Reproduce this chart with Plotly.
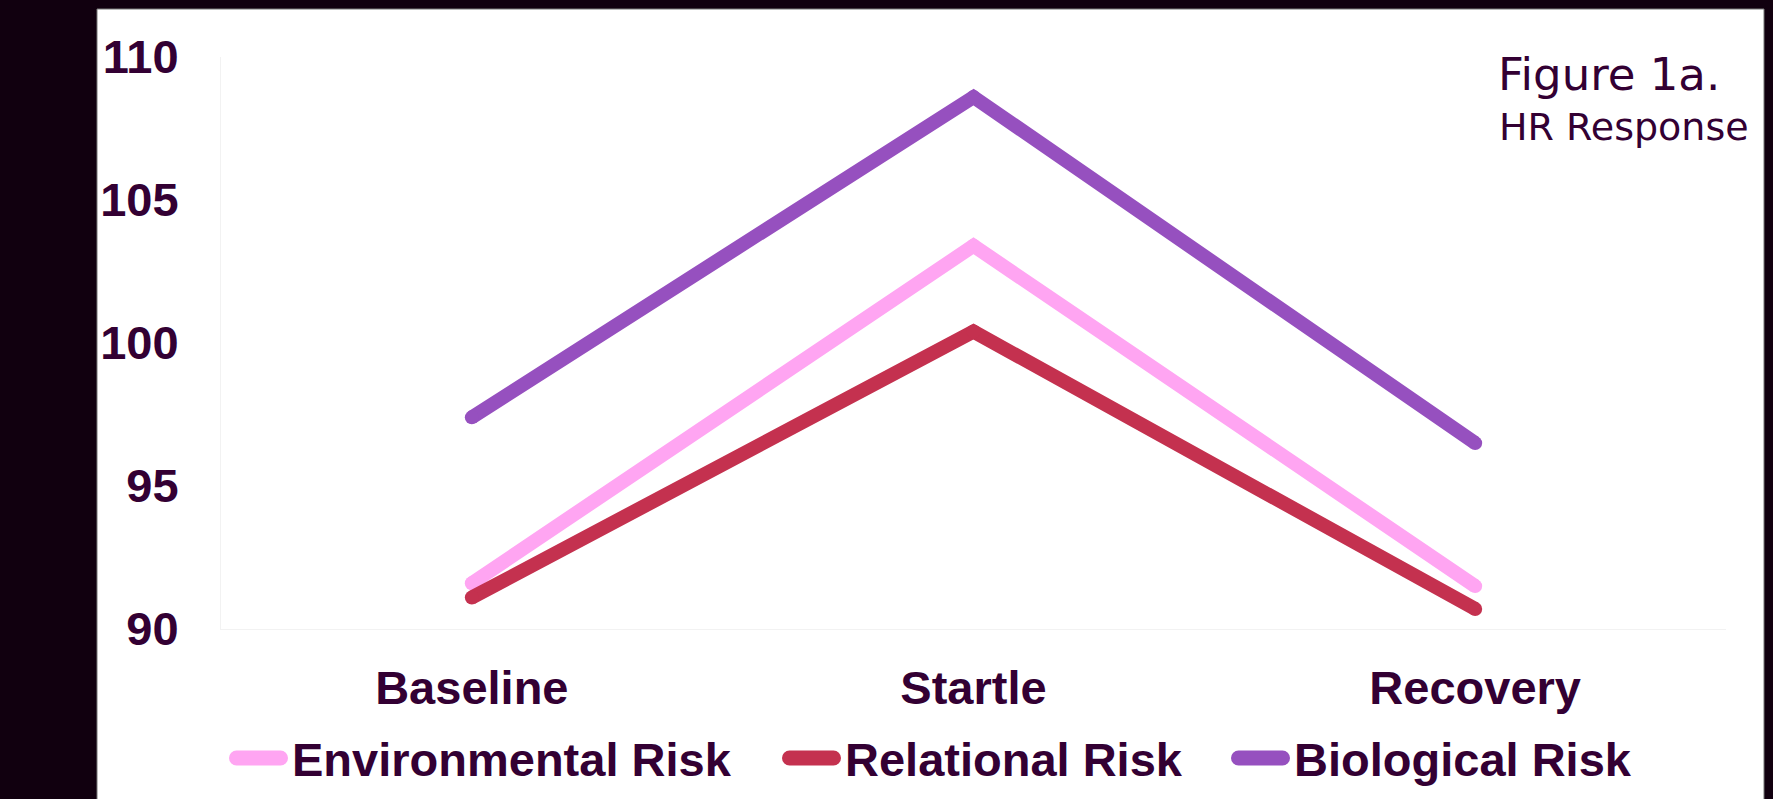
import plotly.graph_objects as go

# Heart-rate response by risk group across the three task phases
categories = ["Baseline", "Startle", "Recovery"]
environmental = [91.6, 103.4, 91.5]
relational = [91.1, 100.4, 90.7]
biological = [97.4, 108.6, 96.5]

series_names = ["Environmental Risk", "Relational Risk", "Biological Risk"]
series_values = [environmental, relational, biological]
series_colors = ["#FFA5F2", "#C4314F", "#9650BF"]
# width reserved for each legend entry's text block
legend_widths = [478, 374, 345]

W, H = 1773, 799
L, R, T, B = 221, 47, 57, 170
pw, ph = W - L - R, H - T - B
LW = 14

def px_x(v):
    return (v - L) / pw

def px_y(v):
    return (H - B - v) / ph

ink = "#330033"
dark = "#11000F"

fig = go.Figure()
for name, vals, color, lw in zip(series_names, series_values, series_colors, legend_widths):
    fig.add_trace(go.Scatter(
        x=categories, y=vals, name=name, mode="lines", legendgroup=name,
        line=dict(color=color, width=LW), legendwidth=lw, hoverinfo="skip",
    ))
    # round end caps and joins
    fig.add_trace(go.Scatter(
        x=categories, y=vals, mode="markers", legendgroup=name, showlegend=False,
        marker=dict(color=color, size=LW, line=dict(width=0)), hoverinfo="skip",
    ))

# white slide panel behind the chart
fig.add_shape(type="rect", xref="paper", yref="paper", layer="below",
              x0=px_x(97), x1=px_x(1764), y0=px_y(830), y1=px_y(9),
              fillcolor="white", line=dict(color="#777777", width=1))

fig.add_annotation(xref="paper", yref="paper", x=px_x(1496), y=px_y(46),
                   xanchor="left", yanchor="top", showarrow=False, align="left",
                   text="Figure 1a.", font=dict(family="DejaVu Sans", size=45, color=ink))
fig.add_annotation(xref="paper", yref="paper", x=px_x(1497), y=px_y(103),
                   xanchor="left", yanchor="top", showarrow=False, align="left",
                   text="HR Response", font=dict(family="DejaVu Sans", size=38, color=ink))

tick_font = dict(family="Liberation Sans", size=47, color=ink, weight="bold")

fig.update_layout(
    width=W, height=H,
    margin=dict(l=L, r=R, t=T, b=B, pad=0, autoexpand=False),
    paper_bgcolor=dark, plot_bgcolor="white",
    showlegend=True,
    legend=dict(orientation="h", x=px_x(222), y=px_y(721), xanchor="left", yanchor="top",
                font=dict(family="Liberation Sans", size=47, color=ink, weight="bold"),
                itemwidth=60, bgcolor="rgba(0,0,0,0)", traceorder="normal",
                itemclick=False, itemdoubleclick=False),
    xaxis=dict(type="category", range=[-0.5, 2.5], showgrid=False, zeroline=False,
               showline=True, linecolor="#F2F2F2", linewidth=1, mirror=False,
               ticks="", tickfont=tick_font, ticklabelstandoff=18, fixedrange=True),
    yaxis=dict(range=[90, 110], tickvals=[90, 95, 100, 105, 110], showgrid=False,
               zeroline=False, showline=True, linecolor="#F2F2F2", linewidth=1,
               ticks="", tickfont=tick_font, ticklabelstandoff=32, fixedrange=True),
)

# legend keys drawn as thick pills with rounded ends
legend_style = """
var gd = document.getElementById('{plot_id}');
function pillKeys() {
  gd.querySelectorAll('.legend .legendlines path.js-line').forEach(function (p) {
    p.setAttribute('d', 'M14.5,0h44');
    p.style.strokeWidth = '15px';
    p.style.strokeLinecap = 'round';
  });
}
pillKeys();
gd.on('plotly_afterplot', pillKeys);
"""

fig.write_html("out.html", config={"displayModeBar": False}, post_script=legend_style)
